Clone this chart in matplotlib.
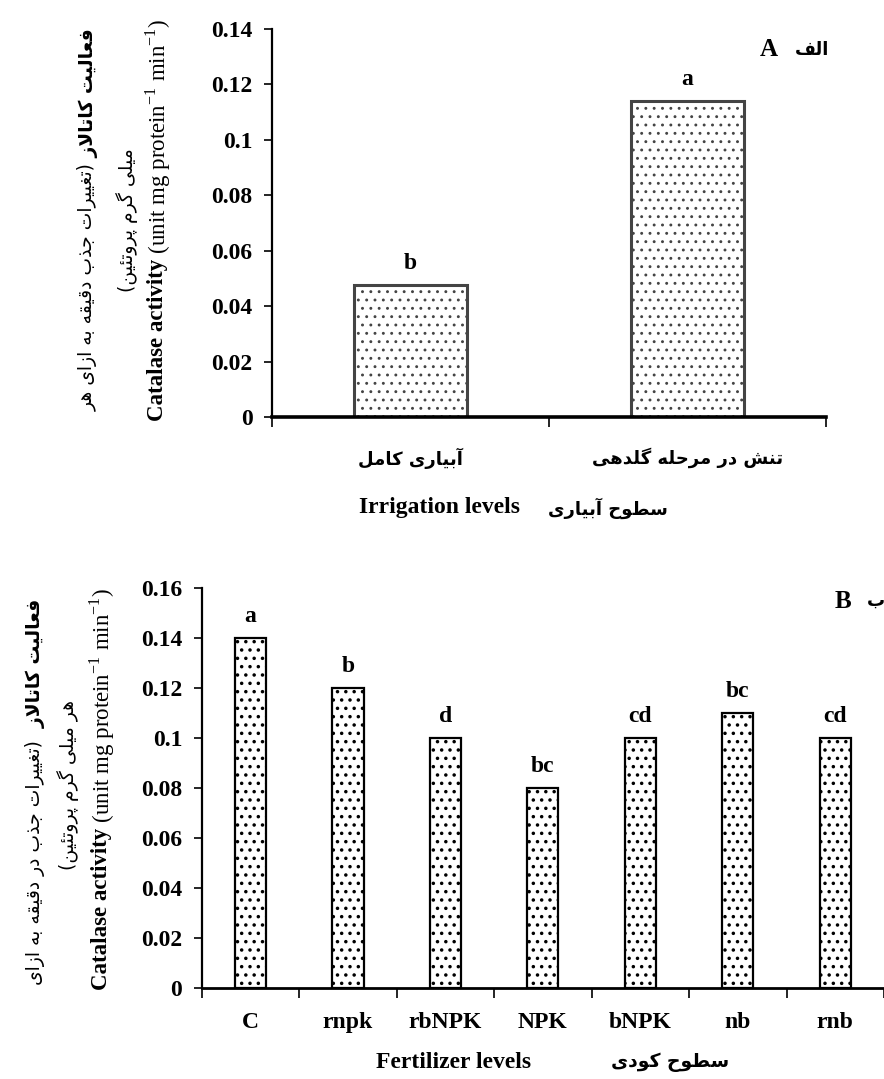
import matplotlib as mpl
from matplotlib import pyplot as plt

# Fonts: Times-like serif for Latin text, DejaVu Sans carries the Persian glyphs
mpl.rcParams['font.family'] = ['Liberation Serif', 'DejaVu Sans']
mpl.rcParams['mathtext.fontset'] = 'custom'
mpl.rcParams['mathtext.rm'] = 'Liberation Serif'
mpl.rcParams['mathtext.bf'] = 'Liberation Serif:bold'

# Panel A: irrigation levels
irrigation = ['آبیاری کامل', 'تنش در مرحله گلدهی']
catalase_irr = [0.0475, 0.114]
letters_irr = ['b', 'a']
yticks_irr = [0, 0.02, 0.04, 0.06, 0.08, 0.1, 0.12, 0.14]

# Panel B: fertilizer levels
fertilizer = ['C', 'rnpk', 'rbNPK', 'NPK', 'bNPK', 'nb', 'rnb']
catalase_fert = [0.14, 0.12, 0.10, 0.08, 0.10, 0.11, 0.10]
letters_fert = ['a', 'b', 'd', 'bc', 'cd', 'bc', 'cd']
yticks_fert = [0, 0.02, 0.04, 0.06, 0.08, 0.1, 0.12, 0.14, 0.16]

FA = 'DejaVu Sans'

# Contextual forms (isolated, final, initial, medial) of the Persian letters used
FORMS = {
    'ا': (0xFE8D, 0xFE8E), 'آ': (0xFE81, 0xFE82),
    'ب': (0xFE8F, 0xFE90, 0xFE91, 0xFE92), 'پ': (0xFB56, 0xFB57, 0xFB58, 0xFB59),
    'ت': (0xFE95, 0xFE96, 0xFE97, 0xFE98), 'ج': (0xFE9D, 0xFE9E, 0xFE9F, 0xFEA0),
    'ح': (0xFEA1, 0xFEA2, 0xFEA3, 0xFEA4), 'د': (0xFEA9, 0xFEAA),
    'ذ': (0xFEAB, 0xFEAC), 'ر': (0xFEAD, 0xFEAE), 'ز': (0xFEAF, 0xFEB0),
    'س': (0xFEB1, 0xFEB2, 0xFEB3, 0xFEB4), 'ش': (0xFEB5, 0xFEB6, 0xFEB7, 0xFEB8),
    'ط': (0xFEC1, 0xFEC2, 0xFEC3, 0xFEC4), 'ع': (0xFEC9, 0xFECA, 0xFECB, 0xFECC),
    'غ': (0xFECD, 0xFECE, 0xFECF, 0xFED0), 'ف': (0xFED1, 0xFED2, 0xFED3, 0xFED4),
    'ق': (0xFED5, 0xFED6, 0xFED7, 0xFED8), 'ک': (0xFB8E, 0xFB8F, 0xFB90, 0xFB91),
    'گ': (0xFB92, 0xFB93, 0xFB94, 0xFB95), 'ل': (0xFEDD, 0xFEDE, 0xFEDF, 0xFEE0),
    'م': (0xFEE1, 0xFEE2, 0xFEE3, 0xFEE4), 'ن': (0xFEE5, 0xFEE6, 0xFEE7, 0xFEE8),
    'ه': (0xFEE9, 0xFEEA, 0xFEEB, 0xFEEC), 'و': (0xFEED, 0xFEEE),
    'ی': (0xFBFC, 0xFBFD, 0xFBFE, 0xFBFF), 'ئ': (0xFE89, 0xFE8A, 0xFE8B, 0xFE8C),
}
LAM_ALEF = {'ا': (0xFEFB, 0xFEFC), 'آ': (0xFEF5, 0xFEF6)}


def fa(text):
    """Join Persian letters and put them in right-to-left display order."""
    def dual(c):
        return c in FORMS and len(FORMS[c]) == 4

    out = []
    i = 0
    while i < len(text):
        c = text[i]
        if c not in FORMS:
            out.append(c)
            i += 1
            continue
        link_prev = i > 0 and dual(text[i - 1])
        if c == 'ل' and i + 1 < len(text) and text[i + 1] in LAM_ALEF:
            out.append(chr(LAM_ALEF[text[i + 1]][1 if link_prev else 0]))
            i += 2
            continue
        link_next = dual(c) and i + 1 < len(text) and text[i + 1] in FORMS
        f = FORMS[c]
        if link_prev and link_next:
            out.append(chr(f[3]))
        elif link_prev:
            out.append(chr(f[1]))
        elif link_next:
            out.append(chr(f[2]))
        else:
            out.append(chr(f[0]))
        i += 1
    swap = {'(': ')', ')': '('}
    return ''.join(swap.get(ch, ch) for ch in reversed(out))


W, H = 884, 1079
fig = plt.figure(figsize=(W / 100, H / 100), dpi=100)


def px(x, y):
    return x / W, 1 - y / H


def style_axes(ax, n, yticks, lw_bottom):
    ax.set_xlim(-0.5, n - 0.5)
    ax.set_ylim(0, yticks[-1])
    ax.set_yticks(yticks)
    ax.set_yticklabels([f'{v:g}' for v in yticks], fontsize=17, fontweight='bold')
    ax.spines[['top', 'right']].set_visible(False)
    ax.spines['left'].set_linewidth(1.6)
    ax.spines['bottom'].set_linewidth(lw_bottom)
    ax.tick_params(axis='y', length=6, width=1.2, pad=8)
    ax.set_xticks([i - 0.5 for i in range(n + 1)], minor=True)
    ax.tick_params(axis='x', which='minor', length=7, width=1.2)
    ax.tick_params(axis='x', which='major', length=0)


# ---- panel A ----
ax1 = fig.add_axes([272 / W, 1 - 417 / H, (826 - 272) / W, (417 - 29) / H])
x1 = range(len(irrigation))
with mpl.rc_context({'hatch.linewidth': 0.9}):
    ax1.bar(x1, catalase_irr, width=0.405, color='white', edgecolor='#444444',
            linewidth=2.2, hatch='..', zorder=2)
style_axes(ax1, len(irrigation), yticks_irr, 2.6)
ax1.set_xticks(list(x1))
ax1.set_xticklabels([fa(s) for s in irrigation], family=FA, fontweight='bold', fontsize=13)
ax1.tick_params(axis='x', which='major', pad=22)
for xi, v, lab in zip(x1, catalase_irr, letters_irr):
    ax1.annotate(lab, (xi, v), xytext=(0, 8), textcoords='offset points',
                 ha='center', va='bottom', fontsize=17, fontweight='bold')

fig.text(*px(520, 508), 'Irrigation levels', ha='right', va='center',
         fontsize=17, fontweight='bold')
fig.text(*px(548, 508), fa('سطوح آبیاری'), ha='left', va='center',
         family=FA, fontsize=13, fontweight='bold')
fig.text(*px(769, 50), 'A', ha='center', va='center', fontsize=18, fontweight='bold')
fig.text(*px(812, 50), fa('الف'), ha='center', va='center', family=FA,
         fontsize=13, fontweight='bold')

# ---- panel B ----
ax2 = fig.add_axes([201.7 / W, 1 - 988 / H, (W - 201.7) / W, (988 - 588) / H])
x2 = range(len(fertilizer))
with mpl.rc_context({'hatch.linewidth': 1.3}):
    ax2.bar(x2, catalase_fert, width=0.32, color='white', edgecolor='black',
            linewidth=1.6, hatch='..', zorder=2)
style_axes(ax2, len(fertilizer), yticks_fert, 2.0)
ax2.set_xticks(list(x2))
ax2.set_xticklabels(fertilizer, fontsize=17, fontweight='bold')
ax2.tick_params(axis='x', which='major', pad=17)
for xi, v, lab in zip(x2, catalase_fert, letters_fert):
    ax2.annotate(lab, (xi, v), xytext=(0, 8), textcoords='offset points',
                 ha='center', va='bottom', fontsize=17, fontweight='bold')

fig.text(*px(531, 1062), 'Fertilizer levels', ha='right', va='center',
         fontsize=17, fontweight='bold')
fig.text(*px(611, 1062), fa('سطوح کودی'), ha='left', va='center',
         family=FA, fontsize=13.5, fontweight='bold')
fig.text(*px(843, 601), 'B', ha='center', va='center', fontsize=18, fontweight='bold')
fig.text(*px(867, 601), fa('ب'), ha='left', va='center', family=FA,
         fontsize=13, fontweight='bold')


# ---- rotated y labels, built from pieces stacked bottom to top ----
def vertical_line(x, yc, parts):
    texts = [fig.text(*px(x, yc), s, rotation=90, ha='center', va='bottom', **kw)
             for s, kw in parts]
    fig.canvas.draw()
    r = fig.canvas.get_renderer()
    hs = [t.get_window_extent(r).height for t in texts]
    y = yc + sum(hs) / 2
    for t, h in zip(texts, hs):
        t.set_y(1 - y / H)
        y -= h


fa_bold = dict(family=FA, fontweight='bold', fontsize=13.5)
fa_reg = dict(family=FA, fontsize=13.5)
en_bold = dict(fontweight='bold', fontsize=16.5)
en_reg = dict(fontsize=16.5)
unit = r' (unit mg protein$^{-1}$ min$^{-1}$)'

vertical_line(88, 220, [(fa('(تغییرات جذب دقیقه به ازای هر'), fa_reg),
                        (fa('فعالیت کاتالاز '), fa_bold)])
vertical_line(127, 220, [(fa('میلی گرم پروتئین)'), fa_reg)])
vertical_line(158, 220, [('Catalase activity', en_bold), (unit, en_reg)])

vertical_line(35, 792, [(fa('(تغییرات جذب در دقیقه به ازای'), fa_reg),
                        (fa('فعالیت کاتالاز  '), fa_bold)])
vertical_line(68, 785, [(fa('هر میلی گرم پروتئین)'), fa_reg)])
vertical_line(102, 789, [('Catalase activity', en_bold), (unit, en_reg)])

fig.savefig('out.png', dpi=100)
